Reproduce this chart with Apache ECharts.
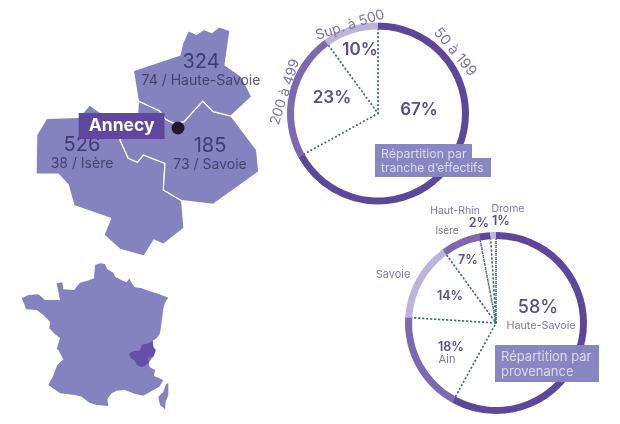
<!DOCTYPE html>
<html>
<head>
<meta charset="utf-8">
<title>Répartition</title>
<style>
  html, body { margin: 0; padding: 0; background: #fff; }
  #chart { width: 620px; height: 424px; }
</style>
<script src="https://cdn.jsdelivr.net/npm/echarts@6/dist/echarts.min.js"></script>
</head>
<body>
<div id="chart"></div>
<script>
// effectifs
const sizeNames = ['50 à 199', '200 à 499', 'Sup. à 500']
const sizeValues = [67, 23, 10]
// provenance
const originNames = ['Haute-Savoie', 'Ain', 'Savoie', 'Isère', 'Haut-Rhin', 'Drome']
const originValues = [58, 18, 14, 7, 2, 1]
// departements
const deptNames = ['Haute-Savoie', 'Isère', 'Savoie']
const deptCodes = ['74', '38', '73']
const deptValues = [324, 526, 185]

const DEEP = '#5c479b', MID = '#7c69af', PALE = '#bdb4da', MAP = '#8583bf', TXT = '#5a4a92', SOFT = '#7f76a8'

// contours, in 3x crop units
const hauteSavoie = [[400,212],[540,165],[548,130],[565,92],[590,103],[612,88],[635,98],[658,80],[690,92],[675,195],[725,230],[755,290],[693,348],[640,335],[608,303],[552,365],[522,370],[497,358],[478,332],[415,303]]
const savoie = [[415,303],[478,332],[497,358],[522,370],[552,365],[608,303],[640,335],[693,348],[770,450],[776,515],[640,613],[545,602],[490,570],[495,490],[430,465],[412,487],[385,475],[360,420],[413,345]]
const isere = [[108,522],[110,405],[140,355],[238,352],[268,315],[305,340],[413,345],[360,420],[385,475],[412,487],[430,465],[495,490],[490,570],[545,602],[552,685],[490,733],[462,720],[432,768],[360,748],[312,705],[332,655],[222,617],[205,555],[175,522]]
const france = [[285,45],[300,40],[315,42],[322,58],[340,68],[345,80],[368,92],[380,97],[388,85],[395,100],[405,112],[425,115],[445,122],[470,130],[505,143],[495,158],[490,175],[485,215],[480,250],[470,265],[458,272],[460,295],[467,300],[460,320],[445,340],[450,352],[465,360],[462,378],[490,390],[478,410],[460,420],[430,437],[405,432],[375,420],[350,422],[335,430],[322,447],[325,468],[290,465],[268,458],[245,440],[225,435],[180,430],[145,405],[158,380],[172,345],[190,328],[175,300],[170,297],[180,265],[162,250],[148,235],[150,215],[130,195],[110,180],[78,178],[72,160],[65,145],[85,135],[115,133],[135,150],[160,150],[180,150],[170,100],[187,97],[190,118],[222,120],[240,98],[262,92],[282,85]]
const corse = [[498,402],[505,400],[505,435],[497,455],[495,478],[480,465],[475,440],[490,425]]
const alpes = [[388,310],[402,303],[420,302],[425,285],[445,280],[458,272],[460,290],[467,300],[462,318],[445,325],[447,340],[425,352],[410,345],[405,332],[392,325]]

const crop = (pts, ox, oy) => {
  let out = pts.map(([x, y]) => [ox + x / 3, oy + y / 3])
  out.push(out[0])
  return out
}
const region = (name, rings) => ({
  type: 'Feature',
  properties: { name },
  geometry: { type: 'MultiPolygon', coordinates: rings.map(r => [r]) }
})

echarts.registerMap('carte', {
  type: 'FeatureCollection',
  features: [
    region('Isère', [crop(isere, 0, 0)]),
    region('Savoie', [crop(savoie, 0, 0)]),
    region('Haute-Savoie', [crop(hauteSavoie, 0, 0)]),
    region('France', [crop(france, 0, 250), crop(corse, 0, 250)]),
    region('Alpes', [crop(alpes, 0, 250)])
  ]
})

const deptLabelPos = { 'Haute-Savoie': [201, 71], 'Isère': [82, 154], 'Savoie': [210, 155] }

function ring(center, names, values, colors) {
  return [{
    type: 'pie', center, radius: [0, 87], silent: true, z: 1,
    label: { show: false }, labelLine: { show: false },
    itemStyle: { color: 'transparent', borderColor: '#3f6b78', borderWidth: 1.5, borderType: [1.5, 2.5] },
    data: names.map((name, i) => ({ name, value: values[i] }))
  }, {
    type: 'pie', center, radius: [84, 91], silent: true, z: 2,
    label: { show: false }, labelLine: { show: false },
    data: names.map((name, i) => ({ name, value: values[i], itemStyle: { color: colors[i] } }))
  }]
}

const txt = (text, x, y, size, fill, opts = {}) => ({
  type: 'text', x, y, rotation: (opts.rot || 0) * Math.PI / 180, z: 20, silent: true,
  style: {
    text, fill, fontFamily: 'Inter', fontSize: size, fontWeight: opts.weight || 400,
    align: opts.align || 'center', verticalAlign: 'middle', lineHeight: opts.lh
  }
})
const box = (x, y, width, height) => ({
  type: 'rect', z: 15, silent: true, shape: { x, y, width, height }, style: { fill: MAP, opacity: 0.97 }
})

const graphics = [
  // donut effectifs
  txt(sizeNames[0], 455, 52, 14.5, SOFT, { rot: -50 }),
  txt(sizeNames[1], 285, 92, 14, SOFT, { rot: 72 }),
  txt(sizeNames[2], 350, 25, 14, SOFT, { rot: 18 }),
  txt(sizeValues[0] + '%', 419, 110, 17, TXT, { weight: 600 }),
  txt(sizeValues[1] + '%', 332, 98, 17, TXT, { weight: 600 }),
  txt(sizeValues[2] + '%', 360, 50, 17, TXT, { weight: 600 }),
  box(375, 144, 97, 14), box(375, 158, 116, 19),
  txt('Répartition par', 381, 154, 12.3, '#dcdaf0', { align: 'left' }),
  txt('tranche d’effectifs', 381, 168, 12, '#dcdaf0', { align: 'left' }),
  // donut provenance
  txt(originValues[0] + '%', 538, 308, 18, TXT, { weight: 500 }),
  txt(originNames[0], 541, 326, 10.8, SOFT),
  txt(originValues[1] + '%', 451, 347, 12.5, TXT, { weight: 600 }),
  txt(originNames[1], 447, 360, 11, SOFT),
  txt(originValues[2] + '%', 450, 296, 12.5, TXT, { weight: 600 }),
  txt(originNames[2], 393, 275, 11, SOFT),
  txt(originValues[3] + '%', 468, 260, 12.5, TXT, { weight: 600 }),
  txt(originNames[3], 447, 231, 10, SOFT),
  txt(originValues[4] + '%', 479, 223, 12.5, TXT, { weight: 600 }),
  txt(originNames[4], 455, 211, 10.5, SOFT),
  txt(originValues[5] + '%', 501, 221, 12.5, TXT, { weight: 600 }),
  txt(originNames[5], 508, 209, 10.5, SOFT),
  box(495, 345, 104, 37),
  txt('Répartition par', 501, 357, 13, '#dcdaf0', { align: 'left' }),
  txt('provenance', 501, 372, 13, '#dcdaf0', { align: 'left' })
]

const myChart = echarts.init(document.getElementById('chart'))
myChart.setOption({
  animation: false,
  backgroundColor: '#fff',
  geo: {
    map: 'carte',
    silent: true,
    roam: false,
    projection: { project: p => p, unproject: p => p },
    boundingCoords: [[0, 0], [620, 424]],
    left: 0, top: 0, width: 620, height: 424,
    label: { show: false },
    itemStyle: { areaColor: MAP, borderColor: '#fff', borderWidth: 1.2 },
    regions: [
      { name: 'France', itemStyle: { borderWidth: 0 } },
      { name: 'Alpes', itemStyle: { areaColor: '#6450a6', borderWidth: 0 } }
    ]
  },
  series: [
    {
      type: 'scatter', coordinateSystem: 'geo', symbolSize: 0, silent: true, z: 5,
      data: deptNames.map((name, i) => ({
        name,
        value: deptLabelPos[name],
        label: {
          show: true, position: 'inside', align: 'center', verticalAlign: 'middle',
          formatter: `{a|${deptValues[i]}}\n{b|${deptCodes[i]} / ${name}}`,
          rich: {
            a: { fontFamily: 'Inter', fontSize: 20, color: '#2e2860', lineHeight: 20, align: 'center' },
            b: { fontFamily: 'Inter', fontSize: 14, color: '#36305f', lineHeight: 18, align: 'center' }
          }
        }
      }))
    },
    {
      type: 'scatter', coordinateSystem: 'geo', silent: true, z: 6,
      symbolSize: 13, itemStyle: { color: '#1e1c24', opacity: 1 },
      data: [{ name: 'Annecy', value: [178, 128] }],
      label: {
        show: true, position: 'left', distance: 7, offset: [0, -2], formatter: 'Annecy',
        backgroundColor: '#5f479f', color: '#fff', fontFamily: 'Inter', fontWeight: 700,
        fontSize: 17.5, padding: [4, 10, 4, 10]
      }
    },
    ...ring([378, 113.5], sizeNames, sizeValues, [DEEP, MID, PALE]),
    ...ring([496, 323], originNames, originValues, [DEEP, MID, PALE, MID, DEEP, PALE])
  ],
  graphic: graphics
})
</script>
</body>
</html>
